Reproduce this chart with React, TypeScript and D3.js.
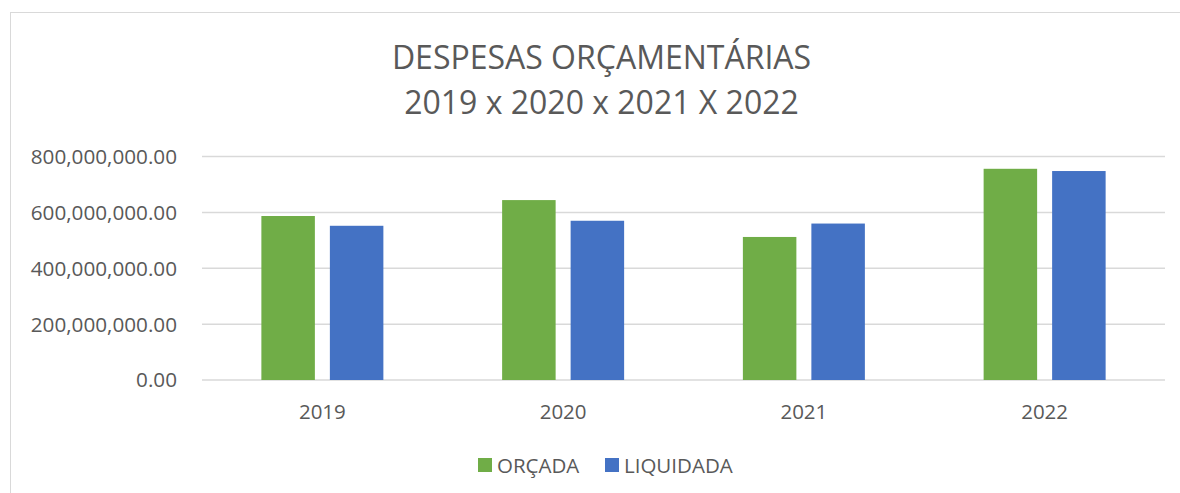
import React from "react";
import * as d3 from "d3";

const years = ["2019", "2020", "2021", "2022"];
const seriesNames = ["ORÇADA", "LIQUIDADA"];
const orcada = [587e6, 644e6, 512e6, 756e6];
const liquidada = [552e6, 570e6, 560e6, 748e6];
const yTicks = [0, 200e6, 400e6, 600e6, 800e6];
const colors = ["#70AD47", "#4472C4"];
const titleLines = ["DESPESAS ORÇAMENTÁRIAS", "2019 x 2020 x 2021 X 2022"];

const W = 1180;
const H = 493;
const FONT = "'Open Sans', Calibri, sans-serif";
const TEXT = "#595959";

export default function App() {
  const left = 202;
  const right = 1165;
  const top = 156.5;
  const bottom = 380;
  const y = d3.scaleLinear().domain([0, 800e6]).range([bottom, top]);
  const x0 = d3.scaleBand().domain(years).range([left, right]).padding(0);
  const groupW = 122;
  const x1 = d3.scaleBand().domain(seriesNames).range([0, groupW]).paddingInner(15 / 68.5).paddingOuter(0);
  const fmt = d3.format(",.2f");
  const series = [orcada, liquidada];

  return (
    <svg width={W} height={H} style={{ position: "absolute", left: 0, top: 0 }} fontFamily={FONT}>
      <rect x={0} y={0} width={W} height={H} fill="#fff" />
      <rect x={10.5} y={12.5} width={W + 10} height={H + 10} fill="#fff" stroke="#D9D9D9" strokeWidth={1} />
      {titleLines.map((t, i) => (
        <text key={i} x={601.5} y={68.5 + i * 45} textAnchor="middle" fontSize={32} fill={TEXT}>
          {t}
        </text>
      ))}
      {yTicks.map((t) => (
        <g key={t}>
          <line x1={left} x2={right} y1={y(t)} y2={y(t)} stroke="#D9D9D9" strokeWidth={1.5} />
          <text x={177} y={y(t)} dy="0.36em" textAnchor="end" fontSize={20.7} fill={TEXT}>
            {fmt(t)}
          </text>
        </g>
      ))}
      {years.map((yr, i) => (
        <g key={yr} transform={`translate(${x0(yr)! + (x0.bandwidth() - groupW) / 2},0)`}>
          {seriesNames.map((s, j) => (
            <rect
              key={s}
              x={x1(s)}
              y={y(series[j][i])}
              width={x1.bandwidth()}
              height={y(0) - y(series[j][i])}
              fill={colors[j]}
            />
          ))}
        </g>
      ))}
      {years.map((yr) => (
        <text key={yr} x={x0(yr)! + x0.bandwidth() / 2} y={419} textAnchor="middle" fontSize={20.5} fill={TEXT}>
          {yr}
        </text>
      ))}
      <g>
        <rect x={478} y={458} width={14} height={14} fill={colors[0]} />
        <text x={497} y={473} fontSize={20.5} fill={TEXT}>{seriesNames[0]}</text>
        <rect x={605} y={458} width={14} height={14} fill={colors[1]} />
        <text x={624} y={473} fontSize={20.5} fill={TEXT}>{seriesNames[1]}</text>
      </g>
    </svg>
  );
}
